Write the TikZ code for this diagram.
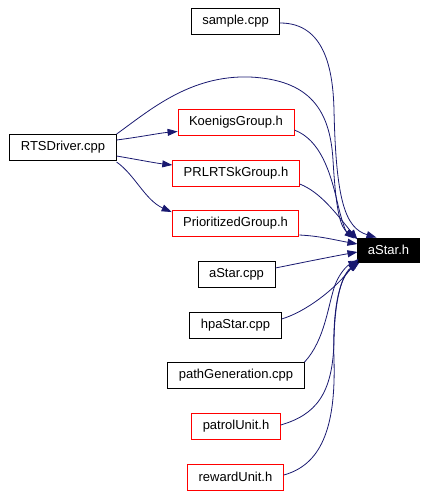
\documentclass[tikz,border=0pt]{standalone}
\usepackage{fontspec}
\setmainfont{Liberation Sans}
\usetikzlibrary{arrows.meta}
\definecolor{edgeblue}{HTML}{191970}
\begin{document}
\begin{tikzpicture}[x=1pt, y=-1pt,
    file/.style={draw=black, line width=0.9pt, minimum height=26pt, inner xsep=11pt, inner ysep=0pt,
        font=\fontsize{13}{15}\selectfont},
    redfile/.style={file, draw=red},
    topfile/.style={file, fill=black, text=white, minimum height=24pt, inner xsep=10pt},
    dep/.style={draw=edgeblue, line width=0.8pt, -{Triangle[length=10pt, width=7pt]}, edgeblue}]
        \useasboundingbox (0, 0) rectangle (428, 498);

        \node[file] (sample) at (235.5, 21) {sample.cpp};
        \node[file] (rtsdriver) at (63, 147.5) {RTSDriver.cpp};
        \node[redfile] (koenigs) at (236, 122.5) {KoenigsGroup.h};
        \node[redfile] (prlrtsk) at (236, 173) {PRLRTSkGroup.h};
        \node[redfile] (prioritized) at (235.5, 223.5) {PrioritizedGroup.h};
        \node[topfile] (astarh) at (388.5, 250) {aStar.h};
        \node[file] (astarcpp) at (236.5, 274.5) {aStar.cpp};
        \node[file] (hpastar) at (235.5, 325) {hpaStar.cpp};
        \node[file] (pathgen) at (236, 375.5) {pathGeneration.cpp};
        \node[redfile] (patrol) at (236, 426.5) {patrolUnit.h};
        \node[redfile] (reward) at (235.5, 477) {rewardUnit.h};

        % RTSDriver.cpp
        \draw[dep] ([yshift=7.5pt]rtsdriver.east) .. controls (140, 137) and (160, 133) .. ([yshift=-9pt]koenigs.west);
        \draw[dep] ([yshift=-8.5pt]rtsdriver.east) .. controls (140, 160) and (155, 163) .. ([yshift=8pt]prlrtsk.west);
        \draw[dep] ([yshift=-14.5pt]rtsdriver.east) .. controls (135, 175) and (145, 200) .. ([yshift=-2pt]prioritized.north west);
        \draw[dep] (rtsdriver.north east) .. controls (150, 110) and (190, 75) .. (250, 77)
            .. controls (310, 80) and (330, 110) .. (333, 160)
            .. controls (336, 210) and (340, 228) .. ([xshift=-1pt]astarh.north west);

        % headers and sources into aStar.h
        \draw[dep] ([yshift=-2pt]sample.east) .. controls (325, 23) and (333, 70) .. (334, 110)
            .. controls (336, 200) and (345, 228) .. ([xshift=-12pt]astarh.north);
        \draw[dep] ([yshift=-7.5pt]koenigs.east) .. controls (320, 140) and (330, 170) .. (338, 205)
            .. controls (342, 222) and (346, 232) .. ([xshift=-3pt, yshift=-1pt]astarh.north west);
        \draw[dep] ([yshift=-11pt]prlrtsk.east) .. controls (320, 192) and (335, 212) .. ([yshift=-2pt]astarh.north west);
        \draw[dep] ([yshift=-11.5pt]prioritized.east) .. controls (320, 236) and (335, 240) .. ([yshift=6pt]astarh.west);
        \draw[dep] ([yshift=6.5pt]astarcpp.east) .. controls (310, 261) and (335, 256) .. ([yshift=-2pt]astarh.west);
        \draw[dep] ([yshift=6pt]hpastar.east) .. controls (305, 312) and (335, 290) .. ([xshift=1pt, yshift=4pt]astarh.south west);
        \draw[dep] (pathgen.north east) .. controls (325, 340) and (328, 305) .. (335, 285)
            .. controls (340, 272) and (348, 265) .. ([xshift=1pt, yshift=2pt]astarh.south west);
        \draw[dep] ([yshift=1.5pt]patrol.east) .. controls (315, 415) and (333, 395) .. (334, 340)
            .. controls (335, 290) and (345, 272) .. ([xshift=1pt]astarh.south west);
        \draw[dep] ([yshift=2pt]reward.east) .. controls (320, 465) and (336, 430) .. (334, 360)
            .. controls (332, 300) and (342, 275) .. ([xshift=2pt]astarh.south west);

    \end{tikzpicture}
\end{document}
